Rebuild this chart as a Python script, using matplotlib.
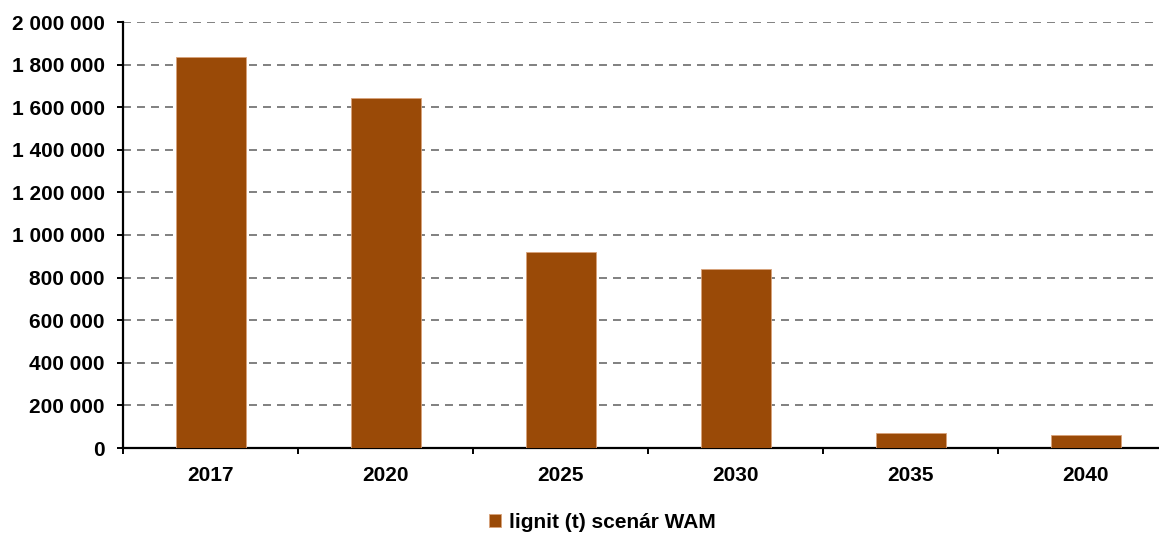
import matplotlib.pyplot as plt
from matplotlib.ticker import FuncFormatter, FixedLocator

plt.rcParams["font.family"] = ["Liberation Sans", "DejaVu Sans"]

# hodnoty
years = ["2017", "2020", "2025", "2030", "2035", "2040"]
lignite_t = [1837000, 1643000, 922000, 839000, 70000, 61000]
series_label = "lignit (t) scenár WAM"
y_ticks = list(range(0, 2000001, 200000))

BAR_COLOR = "#9A4A07"


def space_thousands(value, _pos):
    return f"{int(value):,}".replace(",", " ")


fig = plt.figure(figsize=(11.59, 5.36), dpi=100)
# os x pokračuje až za pravý okraj obrázku (jako v originále)
ax = fig.add_axes([123 / 1159, 88 / 536, 1050 / 1159, 426 / 536])

x = range(len(years))
ax.bar(x, lignite_t, width=0.4, color=BAR_COLOR, edgecolor="#d9a27a",
       linewidth=0.6, label=series_label, zorder=3)

ax.set_xlim(-0.5, len(years) - 0.5)
ax.set_ylim(0, 2000000)
ax.set_yticks(y_ticks)
ax.yaxis.set_major_formatter(FuncFormatter(space_thousands))
ax.set_xticks(list(x))
ax.set_xticklabels(years)
ax.xaxis.set_minor_locator(FixedLocator([i - 0.5 for i in range(len(years) + 1)]))

ax.yaxis.grid(True, color="#808080", linewidth=1.4, dashes=(4.1, 3.1), zorder=0)
ax.set_axisbelow(True)

for side in ("top", "right"):
    ax.spines[side].set_visible(False)
for side in ("left", "bottom"):
    ax.spines[side].set_linewidth(1.6)

ax.tick_params(axis="y", direction="out", length=4, width=1.4, pad=9,
               labelsize=15)
ax.tick_params(axis="x", which="major", length=0, pad=13, labelsize=15)
ax.tick_params(axis="x", which="minor", direction="out", length=4, width=1.4)
for lbl in ax.get_xticklabels() + ax.get_yticklabels():
    lbl.set_fontweight("bold")

fig.legend(loc="center", bbox_to_anchor=(602 / 1159, 14 / 536), frameon=False,
           prop={"size": 15, "weight": "bold"}, handlelength=0.6,
           handleheight=0.6, handletextpad=0.35)

fig.savefig("out.png", dpi=100)
